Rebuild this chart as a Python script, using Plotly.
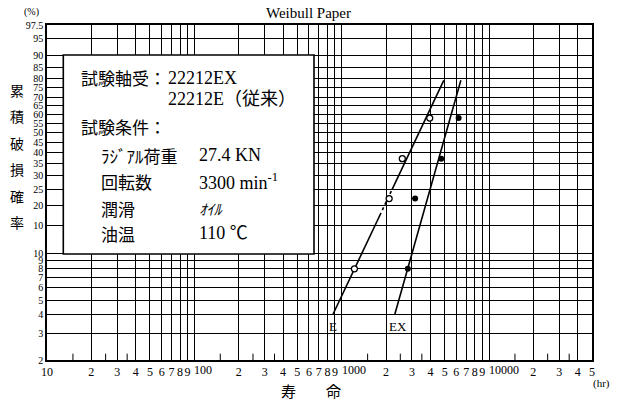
import numpy as np
import plotly.graph_objects as go

# ---------------- data ----------------
e_life = [1220, 2100, 2580, 3960]          # 22212E (conventional) – open circles
e_pct = [8, 22, 37, 58]
ex_life = [2810, 3150, 4740, 6220]         # 22212EX – filled dots
ex_pct = [8, 22, 37, 58]

e_line_life = [870, 4930]                  # fitted Weibull line, E
e_line_pct = [4, 79]
ex_line_life = [2290, 6440]                # fitted Weibull line, EX
ex_line_pct = [4, 79]

y_grid_pct = [97.5, 95, 90, 85, 80, 75, 70, 65, 60, 55, 50, 45, 40, 35, 30, 25, 20, 15, 10, 9, 8, 7, 6, 5, 4, 3, 2]
y_grid_txt = ["97.5", "95", "90", "85", "80", "75", "70", "65", "60", "55", "50", "45", "40", "35", "30", "25", "20", "10", "10", "9", "8", "7", "6", "5", "4", "3", "2"]

x_decades = [10, 100, 1000, 10000]
x_mult = [1, 2, 3, 4, 5, 6, 7, 8, 9]
x_max = 50000
x_small_ticks = [15, 25, 35, 150, 250, 350, 1500, 2500, 3500, 15000, 25000, 35000]


def wb(p):
    p = np.asarray(p, dtype=float) / 100.0
    return np.log(-np.log(1.0 - p))


SERIF = "Liberation Serif, Noto Sans CJK JP"
CJK = "Noto Sans CJK JP, Liberation Serif"

xt_vals, xt_text, x_dec_lines = [], [], []
for d in x_decades:
    for m in x_mult:
        v = d * m
        if v > x_max:
            break
        if m == 1 and d != 10:
            x_dec_lines.append(v)
            continue
        xt_vals.append(v)
        xt_text.append("10" if v == 10 else str(m))

fig = go.Figure()

y_lo, y_hi = float(wb(2)), float(wb(97.5))

# small tick marks along the bottom edge
fig.add_trace(go.Scatter(x=x_small_ticks, y=[y_lo] * len(x_small_ticks), mode="markers",
                         marker=dict(symbol="line-ns-open", size=9, color="black",
                                     line=dict(color="black", width=1)),
                         showlegend=False, hoverinfo="skip"))

# fitted lines
e_x = np.log10(e_line_life)
e_y = wb(e_line_pct)
fr = [0.0, 0.40, 0.535, 1.0]
seg = lambda a, b: ([10 ** (e_x[0] + (e_x[1] - e_x[0]) * t) for t in (a, b)],
                    [e_y[0] + (e_y[1] - e_y[0]) * t for t in (a, b)])
for (a, b), dash in zip([(fr[0], fr[1]), (fr[1], fr[2]), (fr[2], fr[3])], ["solid", "dashdot", "solid"]):
    xs, ys = seg(a, b)
    fig.add_trace(go.Scatter(x=xs, y=ys, mode="lines", line=dict(color="black", width=1.6, dash=dash),
                             showlegend=False, hoverinfo="skip"))

fig.add_trace(go.Scatter(x=ex_line_life, y=wb(ex_line_pct), mode="lines",
                         line=dict(color="black", width=1.6), showlegend=False))

fig.add_trace(go.Scatter(x=e_life, y=wb(e_pct), mode="markers",
                         marker=dict(symbol="circle", size=6, color="white",
                                     line=dict(color="black", width=1.3)),
                         showlegend=False))
fig.add_trace(go.Scatter(x=ex_life, y=wb(ex_pct), mode="markers",
                         marker=dict(symbol="circle", size=6, color="black"),
                         showlegend=False))

fig.update_xaxes(type="log", range=[1, np.log10(x_max)], tickmode="array",
                 tickvals=xt_vals, ticktext=xt_text, tickangle=0, showgrid=True, gridcolor="black",
                 gridwidth=1.2, showline=True, mirror=True, linecolor="black", linewidth=1.6, ticks="",
                 tickfont=dict(family=SERIF, size=12, color="black"), zeroline=False,
                 minor=dict(tickvals=x_dec_lines, ticks="", showgrid=True, gridcolor="black", gridwidth=1.4))
fig.update_yaxes(range=[y_lo, y_hi], tickmode="array", tickvals=wb(y_grid_pct).tolist(),
                 ticktext=y_grid_txt, showgrid=True, gridcolor="black", gridwidth=1.2,
                 showline=True, mirror=True, linecolor="black", linewidth=1.6, ticks="",
                 tickfont=dict(family=SERIF, size=10, color="black"), zeroline=False)

shapes = [dict(type="rect", xref="paper", yref="paper", x0=(63.3 - 47) / 545, x1=(314 - 47) / 545,
               y0=(360 - 254) / 335, y1=(360 - 55) / 335, fillcolor="white",
               line=dict(color="black", width=1.6), layer="above")]

ann = []
def A(text, x, y, size, family=SERIF, xanchor="left", style="normal"):
    ann.append(dict(text=text, xref="paper", yref="paper", x=(x - 47) / 545, y=(360 - y) / 335,
                    xanchor=xanchor, yanchor="middle", showarrow=False,
                    font=dict(family=family, size=size, color="black", style=style)))

# decade labels placed just right of their grid lines
for d in x_dec_lines:
    ann.append(dict(text=str(d), xref="x", yref="paper", x=np.log10(d), y=(360 - 370) / 335,
                    xanchor="left", yanchor="middle", xshift=-2, showarrow=False,
                    font=dict(family=SERIF, size=12, color="black")))

A("Weibull Paper", 308, 13, 15, xanchor="center")
A("(%)", 31, 12, 10, xanchor="center")
A("(hr)", 612, 383, 11, xanchor="right")
A("寿　　命", 311, 390, 15, family=CJK, xanchor="center")
for i, ch in enumerate("累積破損確率"):
    A(ch, 17, 90 + i * 26.4, 14, family=CJK, xanchor="center")

A("試験軸受：", 79, 78, 17, family=CJK)
A("22212EX", 166, 78, 18)
A("22212E（従来）", 166, 99, 18)
A("試験条件：", 79, 126, 17, family=CJK)
A("ﾗｼﾞｱﾙ荷重", 99, 155, 17, family=CJK)
A("27.4 KN", 197, 155, 18)
A("回転数", 99, 181, 17, family=CJK)
A("3300 min<sup>-1</sup>", 197, 181, 18)
A("潤滑", 99, 208, 17, family=CJK)
A("ｵｲﾙ", 197, 208, 15, family=CJK, style="italic")
A("油温", 99, 233, 17, family=CJK)
A("110 ℃", 197, 233, 18)
A("E", 333, 326, 13, xanchor="center")
A("EX", 398, 326, 13, xanchor="center")

fig.update_layout(width=620, height=406, margin=dict(l=47, r=28, t=25, b=46),
                  paper_bgcolor="white", plot_bgcolor="white", shapes=shapes, annotations=ann,
                  showlegend=False)

fig.write_html("out.html", config={"displayModeBar": False},
               post_script="document.body.style.margin='0';document.body.style.overflow='hidden';")
